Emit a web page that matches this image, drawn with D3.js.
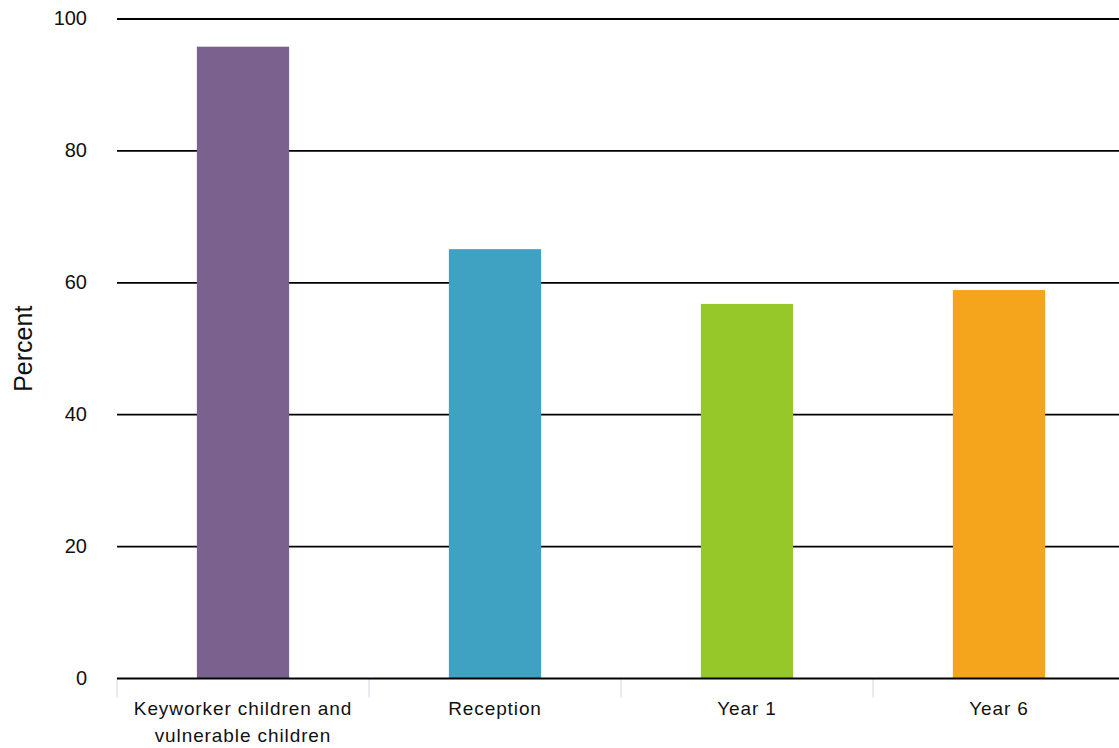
<!DOCTYPE html>
<html><head><meta charset="utf-8">
<script src="https://cdn.jsdelivr.net/npm/d3@7"></script>
<style>body{margin:0;background:#fff}svg{display:block;font-family:"Liberation Sans",Arial,sans-serif}</style>
</head><body>
<svg id="c" width="1119" height="748"></svg>
<script>
const categories = [["Keyworker children and","vulnerable children"],["Reception"],["Year 1"],["Year 6"]];
const values = [95.8, 65.1, 56.8, 58.9];
const colors = ["#7b618e","#40a2c3","#95c828","#f4a51b"];
const yTicks = [0,20,40,60,80,100];

(function(){
const svg = d3.select("#c");
const pL = 117, pR = 1125, pT = 19, pB = 678.5;
const keys = categories.map((d,i)=>i);
const x = d3.scaleBand().domain(keys).range([pL,pR]).paddingInner(0).paddingOuter(0);
const y = d3.scaleLinear().domain([0,100]).range([pB,pT]);
const bw = x.bandwidth()*0.366;

svg.append("g").selectAll("line").data(yTicks.filter(t=>t>0)).join("line")
  .attr("x1",pL).attr("x2",1119).attr("y1",d=>y(d)).attr("y2",d=>y(d))
  .attr("stroke","#000").attr("stroke-width",1.8);

svg.append("g").selectAll("text").data(yTicks).join("text")
  .attr("x",87).attr("y",d=>y(d)).attr("dy","0.3em").attr("text-anchor","end")
  .attr("font-size",20).attr("fill","#111").text(d=>d);

svg.append("g").selectAll("rect").data(values).join("rect")
  .attr("x",(d,i)=>x(i)+x.bandwidth()/2-bw/2).attr("width",bw)
  .attr("y",d=>y(d)).attr("height",d=>pB-y(d))
  .attr("fill",(d,i)=>colors[i]);

svg.append("g").selectAll("line").data(keys).join("line")
  .attr("x1",d=>x(d)).attr("x2",d=>x(d)).attr("y1",pB).attr("y2",pB+19)
  .attr("stroke","#ccd6eb").attr("stroke-width",1);

svg.append("line").attr("x1",pL).attr("x2",1119).attr("y1",pB).attr("y2",pB)
  .attr("stroke","#000").attr("stroke-width",2.2);

const xl = svg.append("g").selectAll("text").data(categories).join("text")
  .attr("text-anchor","middle").attr("font-size",19).attr("letter-spacing",0.9).attr("fill","#111")
  .attr("transform",(d,i)=>`translate(${x(i)+x.bandwidth()/2},${pB+36.5})`);
xl.selectAll("tspan").data(d=>d).join("tspan")
  .attr("x",0).attr("dy",(d,j)=>j===0?0:26.5).text(d=>d);

svg.append("text").attr("transform",`translate(32,${(pT+pB)/2 + 0}) rotate(-90)`)
  .attr("text-anchor","middle").attr("font-size",25).attr("fill","#111").text("Percent");
})();
</script>
</body></html>
